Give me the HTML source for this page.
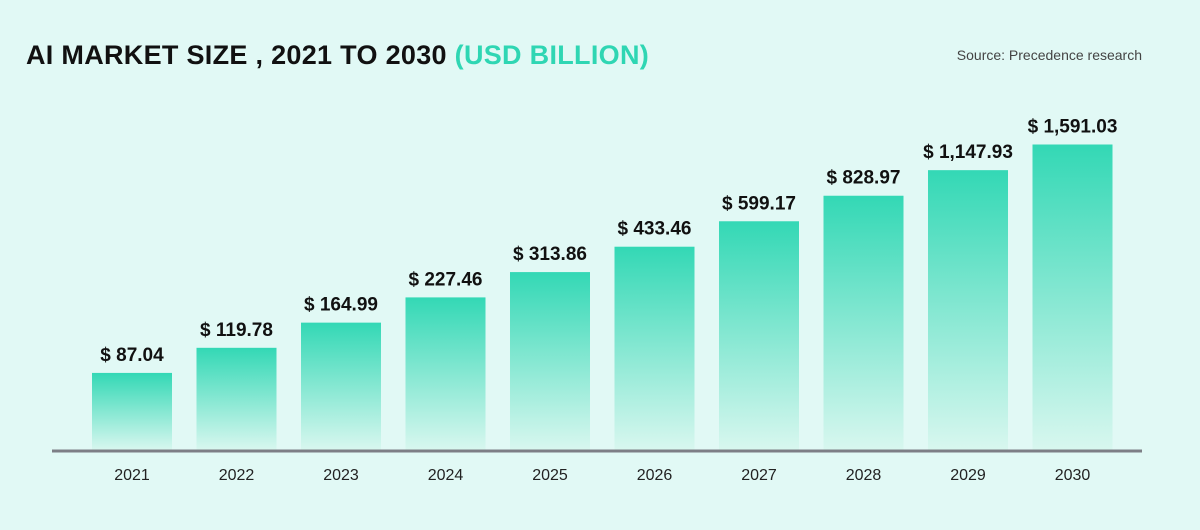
<!DOCTYPE html>
<html><head><meta charset="utf-8">
<style>
html,body{margin:0;padding:0;}
body{width:1200px;height:530px;background:#e1f9f5;font-family:"Liberation Sans",sans-serif;position:relative;overflow:hidden;}
#title{position:absolute;left:26px;top:40px;font-size:27px;font-weight:900;color:#111;letter-spacing:0.3px;}
#title span{color:#2fd6b3;}
#source{position:absolute;right:58px;top:47px;font-size:14px;color:#444;}
svg{position:absolute;left:0;top:0;}
</style></head><body>
<div id="title">AI MARKET SIZE , 2021 TO 2030 <span>(USD BILLION)</span></div>
<div id="source">Source: Precedence research</div>
<svg id="chart" width="1200" height="530">
<defs><linearGradient id="g" x1="0" y1="0" x2="0" y2="1"><stop offset="0" stop-color="#33d8b5"/><stop offset="1" stop-color="#d8f7ef"/></linearGradient></defs>
</svg>
<script>
const categories=["2021","2022","2023","2024","2025","2026","2027","2028","2029","2030"];
const values=[87.04,119.78,164.99,227.46,313.86,433.46,599.17,828.97,1147.93,1591.03];
const valueLabels=["$ 87.04","$ 119.78","$ 164.99","$ 227.46","$ 313.86","$ 433.46","$ 599.17","$ 828.97","$ 1,147.93","$ 1,591.03"];
const NS="http://www.w3.org/2000/svg";
const svg=document.getElementById('chart');
const baseY=450,x0=132,step=104.5,bw=80;
function xPos(i){return x0+i*step;}
function yPos(v){return baseY-(181*Math.log10(v)-274);}
function mk(t,a){const e=document.createElementNS(NS,t);for(const k in a)e.setAttribute(k,a[k]);svg.appendChild(e);return e;}
categories.forEach((c,i)=>{
  const x=xPos(i),y=yPos(values[i]);
  const r=mk('rect',{x:x-bw/2,y:y,width:bw,height:baseY-y,fill:'url(#g)'});
  
  
  const t=mk('text',{x:x,y:y-12,'text-anchor':'middle','font-size':'19','font-weight':'bold',fill:'#111','font-family':'Liberation Sans, sans-serif'});
  t.textContent=valueLabels[i];
  
  
  const l=mk('text',{x:x,y:480,'text-anchor':'middle','font-size':'16',fill:'#222','font-family':'Liberation Sans, sans-serif'});
  l.textContent=c;
  
  
});
const ax=mk('line',{x1:52,x2:1142,y1:451,y2:451,stroke:'#7d7f86','stroke-width':3});


</script>
</body></html>
